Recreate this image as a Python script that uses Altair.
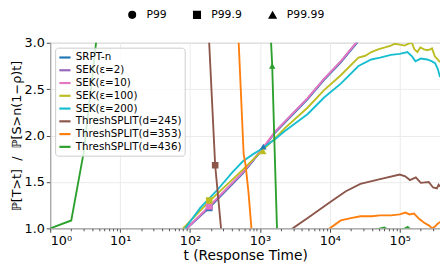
import altair as alt
import pandas as pd

names = ["SRPT-n", "SEK(ε=2)", "SEK(ε=10)", "SEK(ε=100)", "SEK(ε=200)",
         "ThreshSPLIT(d=245)", "ThreshSPLIT(d=353)", "ThreshSPLIT(d=436)"]
colors = ["#1f77b4", "#9467bd", "#e377c2", "#bcbd22", "#17becf",
          "#8c564b", "#ff7f0e", "#2ca02c"]

srpt_t = [70, 90, 188, 566, 1080, 1645, 2275, 4790, 8280, 14360, 23300, 45000]
srpt_y = [0.8, 1.0, 1.22, 1.59, 1.85, 2.03, 2.14, 2.39, 2.60, 2.79, 2.98, 3.25]

sek2_t = [70, 90, 188, 566, 1080, 1645, 2275, 4790, 8280, 14360, 23300, 45000]
sek2_y = [0.8, 1.0, 1.23, 1.60, 1.85, 2.04, 2.15, 2.40, 2.61, 2.80, 2.99, 3.25]

sek10_t = [70, 90, 188, 566, 1080, 1645, 2275, 4790, 8280, 14360, 23300, 45000]
sek10_y = [0.8, 1.0, 1.24, 1.60, 1.86, 2.04, 2.15, 2.40, 2.61, 2.80, 2.99, 3.25]

sek100_t = [60, 80, 188, 566, 1080, 1645, 2275, 4790, 8280, 14360, 25700, 32200,
            39200, 49100, 61500, 74800, 85100, 100000, 117000, 142600, 151000,
            162000, 179000, 197000, 224000, 247000, 272000, 290000, 320000,
            342000, 377000]
sek100_y = [0.8, 1.0, 1.29, 1.63, 1.84, 1.97, 2.08, 2.30, 2.49, 2.65, 2.84, 2.86,
            2.90, 2.93, 2.95, 2.97, 2.99, 2.98, 2.97, 3.0, 2.99,
            2.93, 2.90, 2.95, 2.93, 2.92, 2.93, 2.94, 2.85,
            2.83, 2.79]

sek200_t = [60, 85, 140, 237, 400, 566, 800, 1080, 1645, 2275, 4790, 8280, 14360,
            25700, 39200, 52400, 74800, 100000, 129000, 151000, 168000, 200000,
            247000, 290000, 320000, 350000, 377000]
sek200_y = [0.7, 1.0, 1.22, 1.40, 1.60, 1.72, 1.80, 1.86, 1.96, 2.05, 2.23, 2.41, 2.56,
            2.75, 2.82, 2.84, 2.87, 2.88, 2.90, 2.85, 2.80, 2.83,
            2.82, 2.80, 2.78, 2.72, 2.63]

th245_t = [170, 188, 229, 278, 330, 2945, 5000, 10400, 17000, 27400, 52400, 100000,
           120000, 140000, 170000, 200000, 260000, 300000, 340000, 360000, 377000]
th245_y = [3.5, 3.0, 1.68, 1.0, 0.6, 1.0, 1.12, 1.29, 1.40, 1.48, 1.53, 1.58,
           1.56, 1.52, 1.55, 1.49, 1.50, 1.44, 1.43, 1.47, 1.45]

th353_t = [450, 497, 585, 624, 686, 756, 860, 3000, 10000, 14360, 20000, 27400,
           40000, 52400, 75000, 100000, 121000, 138000, 160000, 191000, 224000,
           264000, 290000, 320000, 350000, 377000]
th353_y = [3.4, 3.0, 1.8, 1.68, 1.39, 1.0, 0.6, 0.7, 1.0, 1.085, 1.11, 1.13,
           1.13, 1.14, 1.14, 1.15, 1.17, 1.15, 1.16, 1.10, 1.06,
           1.03, 1.0, 1.02, 1.05, 1.07]

th436_t = [1, 2, 3, 4, 5, 6, 1300, 1445, 1500, 1645, 1755, 1900, 5000, 30000,
           60000, 70000, 90000, 120000, 130000, 150000, 200000, 377000]
th436_y = [1.0, 1.085, 1.81, 2.63, 3.3, 4.0, 4.0, 3.0, 2.75, 1.7, 1.0, 0.7, 0.8, 0.95,
           1.01, 0.98, 0.97, 1.0, 1.015, 0.97, 0.9, 0.85]

marker_series = ["SRPT-n", "SRPT-n", "SEK(ε=2)", "SEK(ε=10)", "SEK(ε=100)",
                 "SEK(ε=100)", "ThreshSPLIT(d=245)", "ThreshSPLIT(d=436)"]
marker_pct = ["P99.9", "P99.99", "P99.9", "P99.9", "P99.9", "P99.99", "P99.9", "P99.99"]
marker_t = [188, 1117, 188, 188, 188, 1117, 229, 1500]
marker_y = [1.22, 1.88, 1.23, 1.24, 1.30, 1.83, 1.68, 2.75]

pct_names = ["P99", "P99.9", "P99.99"]
pct_shapes = ["circle", "square", "triangle-up"]

major_ticks = [1, 10, 100, 1000, 10000, 100000]
minor_ticks = [m * d for d in [1, 10, 100, 1000, 10000, 100000]
               for m in [2, 3, 4, 5, 6, 7, 8, 9]]

all_t = [srpt_t, sek2_t, sek10_t, sek100_t, sek200_t, th245_t, th353_t, th436_t]
all_y = [srpt_y, sek2_y, sek10_y, sek100_y, sek200_y, th245_y, th353_y, th436_y]

rows = []
for i, name in enumerate(names):
    for t, y in zip(all_t[i], all_y[i]):
        rows.append({"series": name, "t": t, "y": y, "ord": i})
lines_df = pd.DataFrame(rows)

markers_df = pd.DataFrame({"series": marker_series, "pct": marker_pct,
                           "t": marker_t, "y": marker_y})

xs = alt.Scale(type="log", domain=[1, 377000], nice=False)
ys = alt.Scale(domain=[1, 3], nice=False, zero=False)

x_axis = alt.Axis(
    values=major_ticks,
    labelExpr="'10' + ['⁰','¹','²','³','⁴','⁵'][round(log(datum.value)/LN10)]",
    title="t (Response Time)", titlePadding=2, titleFontSize=14,
    orient="bottom",
)
x_minor_axis = alt.Axis(
    values=minor_ticks, labels=False, grid=False, domain=False, title=None,
    tickSize=2.5, tickColor="#555555", orient="bottom",
)
y_axis = alt.Axis(
    values=[1.0, 1.5, 2.0, 2.5, 3.0], format=".1f",
    title="ℙ[T>t]\u00a0\u00a0/\u00a0\u00a0ℙ[S>n(1−ρ)t]", titlePadding=1,
    titleFontSize=13,
)

color_scale = alt.Scale(domain=names, range=colors)

lines = alt.Chart(lines_df).mark_line(strokeWidth=1.9, clip=True).encode(
    x=alt.X("t:Q", scale=xs, axis=x_axis),
    y=alt.Y("y:Q", scale=ys, axis=y_axis),
    color=alt.Color("series:N", scale=color_scale, sort=names,
                    legend=alt.Legend(
                        orient="top-left", title=None, offset=5,
                        symbolType="stroke", symbolStrokeWidth=2.2,
                        symbolSize=130, labelFontSize=10.5, labelOffset=4,
                        rowPadding=0, padding=3,
                        fillColor="rgba(255,255,255,0.8)",
                        strokeColor="#cccccc", cornerRadius=3)),
    order=alt.Order("ord:Q"),
)

markers = alt.Chart(markers_df).mark_point(filled=True, size=45, clip=True, opacity=1).encode(
    x=alt.X("t:Q", scale=xs, axis=x_minor_axis),
    y=alt.Y("y:Q", scale=ys),
    color=alt.Color("series:N", scale=color_scale, legend=None),
    shape=alt.Shape("pct:N", scale=alt.Scale(domain=pct_names, range=pct_shapes),
                    legend=alt.Legend(
                        orient="none", legendX=78, legendY=-34,
                        direction="horizontal", title=None, labelFontSize=11,
                        symbolFillColor="black", symbolStrokeColor="black",
                        symbolSize=45, columnPadding=24, labelOffset=9,
                        padding=0)),
)

chart = alt.layer(lines, markers).resolve_axis(x="independent").properties(
    width=397, height=189,
    autosize=alt.AutoSizeParams(type="none"),
    padding={"left": 43, "top": 33, "right": 0, "bottom": 40},
).configure(
    font="DejaVu Sans",
).configure_axis(
    labelFontSize=13, titleFontWeight="normal",
    labelColor="#000000", titleColor="#000000",
    domainColor="#999999", tickColor="#444444", tickSize=4, labelPadding=2,
    gridColor="#ebebeb", gridWidth=1,
).configure_legend(
    labelColor="#000000",
).configure_view(
    stroke="#b0b0b0",
)

chart.save("out.html", embed_options={"renderer": "svg", "actions": False})
